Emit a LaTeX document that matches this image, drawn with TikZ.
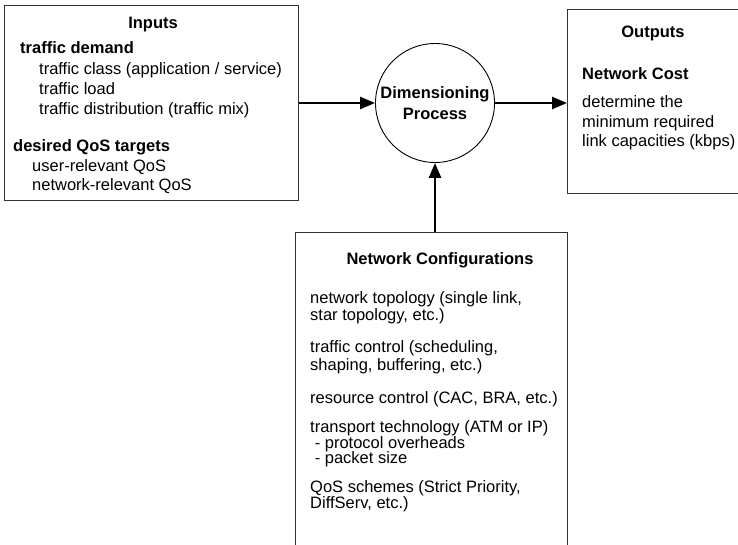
\documentclass[tikz,border=0pt]{standalone}
\usepackage{fontspec}
\setmainfont{Liberation Sans}
\usetikzlibrary{arrows.meta}
\tikzset{
  box/.style={draw=black!80, line width=1.1pt, rectangle, anchor=north west, inner sep=0pt},
  txt/.style={anchor=base west, inner sep=0pt, font=\fontsize{16.5}{20}\selectfont},
  ttl/.style={anchor=base, inner sep=0pt, font=\fontsize{16.5}{20}\selectfont\bfseries},
  btxt/.style={txt, font=\fontsize{16.5}{20}\selectfont\bfseries},
  flow/.style={line width=2.6pt, -{Triangle[length=15pt,width=12pt]}},
}
\begin{document}
\begin{tikzpicture}[x=1pt,y=-1pt]
\useasboundingbox (0,0) rectangle (738,545);
\clip (0,0) rectangle (738,545);
% boxes
\node[box, minimum width=294pt, minimum height=195pt] (inputs) at (4,5) {};
\node[box, minimum width=200pt, minimum height=184pt] (outputs) at (567,9) {};
\node[box, minimum width=272pt, minimum height=330pt] (config) at (295,232) {};
\node[circle, draw=black, line width=0.9pt, minimum size=119pt, inner sep=0pt] (proc) at (435,103) {};
% inputs texts
\node[ttl] (tin) at (153,29) {Inputs};
\node[btxt] (td) at (20,54) {traffic demand};
\node[txt] (t1) at (39,75) {traffic class (application / service)};
\node[txt] (t2) at (39,95) {traffic load};
\node[txt] (t3) at (39,115) {traffic distribution (traffic mix)};
\node[btxt] (tq) at (13,152) {desired QoS targets};
\node[txt] (t4) at (32,172) {user-relevant QoS};
\node[txt] (t5) at (32,191) {network-relevant QoS};
% process text
\node[ttl] (p1) at (435,99) {Dimensioning};
\node[ttl] (p2) at (435,120) {Process};
% outputs texts
\node[ttl] (tout) at (653,38) {Outputs};
\node[btxt] (nc) at (582,80) {Network Cost};
\node[txt] (o1) at (582,108) {determine the};
\node[txt] (o2) at (582,128) {minimum required};
\node[txt] (o3) at (582,147) {link capacities (kbps)};
% config texts
\node[ttl] (tc) at (440,264) {Network Configurations};
\node[txt] (c1) at (310,303) {network topology (single link,};
\node[txt] (c2) at (310,320) {star topology, etc.)};
\node[txt] (c3) at (310,352) {traffic control (scheduling,};
\node[txt] (c4) at (310,370) {shaping, buffering, etc.)};
\node[txt] (c5) at (310,403) {resource control (CAC, BRA, etc.)};
\node[txt] (c6) at (310,432) {transport technology (ATM or IP)};
\node[txt] (c7) at (310,448) {\ - protocol overheads};
\node[txt] (c8) at (310,463) {\ - packet size};
\node[txt] (c9) at (310,492) {QoS schemes (Strict Priority,};
\node[txt] (c10) at (310,508) {DiffServ, etc.)};
% connectors
\draw[flow] (inputs.east |- proc.west) -- (proc.west);
\draw[flow] (proc.east) -- (proc.east -| outputs.west);
\draw[flow] (proc.south |- config.north) -- (proc.south);
\end{tikzpicture}
\end{document}
